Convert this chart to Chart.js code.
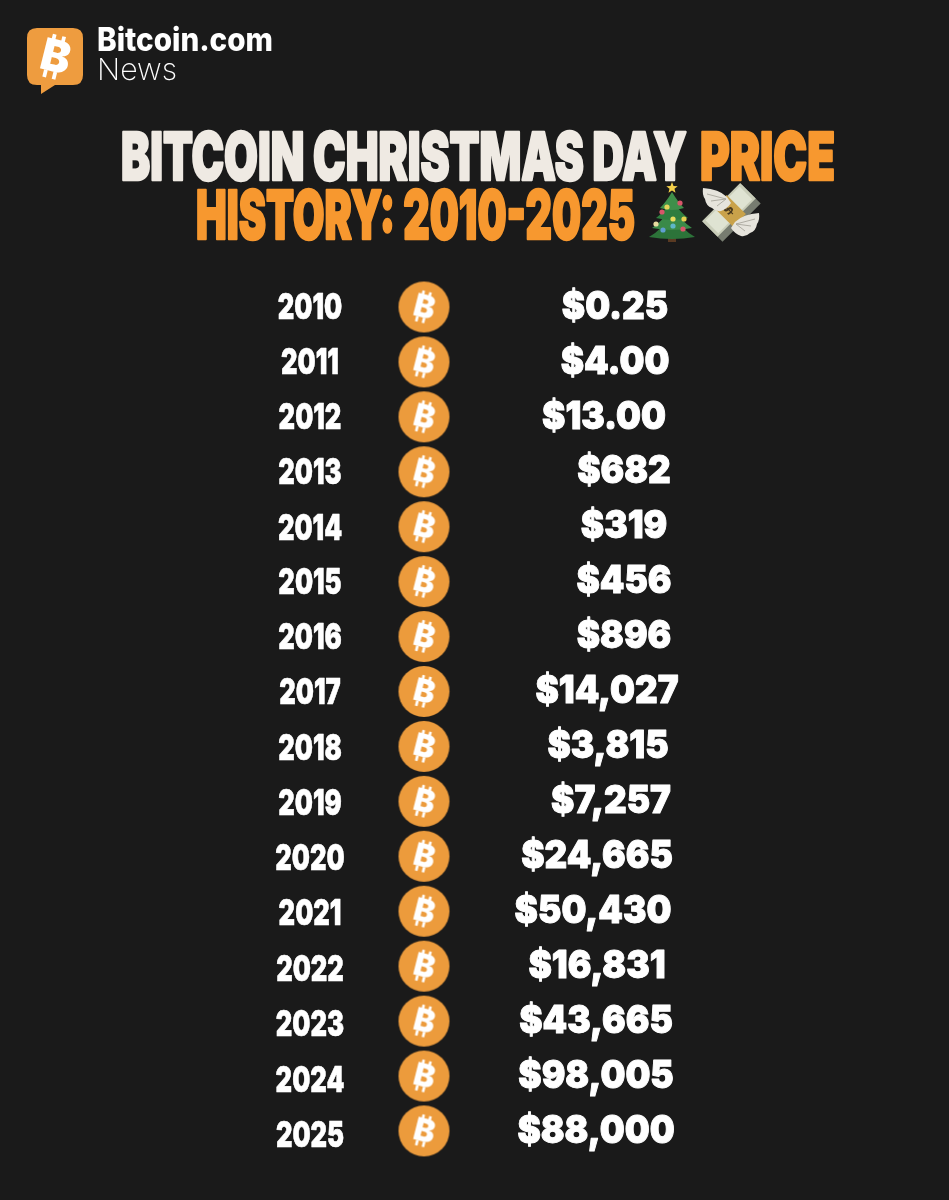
<!DOCTYPE html>
<html>
<head>
<meta charset="utf-8">
<style>html,body{margin:0;padding:0;background:#1a1a1a}canvas{display:block}</style>
<script src="https://cdn.jsdelivr.net/npm/chart.js@4"></script>
</head>
<body>
<canvas id="c" width="949" height="1200" style="width:949px;height:1200px"></canvas>
<script>
const years = ['2010','2011','2012','2013','2014','2015','2016','2017','2018','2019','2020','2021','2022','2023','2024','2025'];
const prices = [0.25,4,13,682,319,456,896,14027,3815,7257,24665,50430,16831,43665,98005,88000];
const columns = ['coin','price'];
const titleLine1 = ['BITCOIN CHRISTMAS DAY','PRICE'];
const titleLine2 = 'HISTORY: 2010-2025';
const brandTop = 'Bitcoin.com';
const brandBottom = 'News';
// hand-placement drift of the price text in the reference (px, text only)
const priceNudge = [0,0,-11,9,9,9,9,-8,-7,-4,-18,-22,-18,-19,-19,-19];
// hand-placement drift of the year text in the reference (px, text only)
const yearNudge = [1,1,1,1,2,2,2,2,3,3,3,3,4,4,5,5];

const BG='#1a1a1a', CREAM='#efeae3', ORANGE='#f7982f', COIN='#ec9b3c';

function bitcoinGlyph(ctx,cx,cy,size){
  ctx.save();
  ctx.translate(cx,cy);ctx.rotate(14*Math.PI/180);
  ctx.fillStyle='#fff';
  ctx.font='900 '+size+'px Inter';
  ctx.textAlign='center';ctx.textBaseline='middle';
  ctx.fillText('B',size*0.02,size*0.03);
  const w=size*0.085,h=size*0.17;
  [-0.13,0.09].forEach(dx=>{
    ctx.fillRect(dx*size-w/2,-size*0.5,w,h);
    ctx.fillRect(dx*size-w/2,size*0.33,w,h);
  });
  ctx.restore();
}
function makeCoin(d){
  const cv=document.createElement('canvas');cv.width=d+2;cv.height=d+2;
  const x=cv.getContext('2d');
  x.fillStyle=COIN;x.beginPath();x.arc(d/2+1,d/2+1,d/2,0,Math.PI*2);x.fill();
  bitcoinGlyph(x,d/2+1,d/2+1,d*0.62);
  return cv;
}
function fitText(ctx,text,x,y,width,stroke){
  const m=ctx.measureText(text).width;
  ctx.save();ctx.translate(x,y);ctx.scale(width/m,1);
  ctx.textAlign='left';
  if(stroke){ctx.lineWidth=stroke;ctx.lineJoin='round';ctx.strokeStyle=ctx.fillStyle;ctx.strokeText(text,0,0);}
  ctx.fillText(text,0,0);ctx.restore();
}
function drawLogo(ctx){
  ctx.save();
  ctx.fillStyle='#ee9c3f';
  ctx.beginPath();ctx.moveTo(37,28);ctx.lineTo(73,28);ctx.quadraticCurveTo(83,28,83,38);
  ctx.lineTo(83,75);ctx.quadraticCurveTo(83,85,73,85);ctx.lineTo(55,85);ctx.lineTo(41,94);ctx.lineTo(41,85);
  ctx.lineTo(37,85);ctx.quadraticCurveTo(27,85,27,75);ctx.lineTo(27,38);ctx.quadraticCurveTo(27,28,37,28);ctx.fill();
  bitcoinGlyph(ctx,55,57,44);
  ctx.fillStyle='#fff';ctx.textAlign='left';ctx.textBaseline='alphabetic';
  ctx.font='800 32px Inter';fitText(ctx,brandTop,97,51,176);
  ctx.font='200 30px Inter';fitText(ctx,brandBottom,97,80,80);
  ctx.restore();
}
function drawTitle(ctx){
  ctx.save();
  ctx.textBaseline='alphabetic';
  ctx.font='900 66px Inter';
  ctx.fillStyle=CREAM;fitText(ctx,titleLine1[0],121,180,566,2.5);
  ctx.fillStyle=ORANGE;fitText(ctx,titleLine1[1],700,180,135,2.5);
  ctx.font='900 68px Inter';
  fitText(ctx,titleLine2,196,239,439,2.5);
  ctx.restore();
}
function drawTree(ctx){
  ctx.save();
  ctx.fillStyle='#5a3a22';ctx.fillRect(668,232,8,10);
  const tiers=[[672,192,12,208,'#3f8f4a'],[672,200,16,218,'#2f7d3f'],[672,206,20,228,'#3a8a48'],[672,214,23,237,'#2c7339']];
  tiers.slice().reverse().forEach(t=>{
    ctx.fillStyle=t[4];ctx.beginPath();ctx.moveTo(t[0],t[1]);
    ctx.quadraticCurveTo(t[0]+t[2]*0.5,t[3]-6,t[0]+t[2],t[3]);
    ctx.quadraticCurveTo(t[0],t[3]+4,t[0]-t[2],t[3]);
    ctx.quadraticCurveTo(t[0]-t[2]*0.5,t[3]-6,t[0],t[1]);ctx.fill();
  });
  [[680,203,'#d8566a'],[667,207,'#e7d45a'],[662,212,'#d8566a'],[673,219,'#e8dc5e'],[684,219,'#e8d050'],[656,224,'#e8dca0'],[673,226,'#5fb7c9'],[663,230,'#5f9fd0'],[683,229,'#d8566a']].forEach(o=>{
    ctx.fillStyle=o[2];ctx.beginPath();ctx.arc(o[0],o[1],2.6,0,Math.PI*2);ctx.fill();
  });
  ctx.fillStyle='#f3cf4a';ctx.beginPath();
  for(let i=0;i<10;i++){const r=i%2?2.6:6,an=-Math.PI/2+i*Math.PI/5;ctx.lineTo(672+r*Math.cos(an),188+r*Math.sin(an));}
  ctx.fill();
  ctx.restore();
}
function wing(ctx,fx){
  ctx.save();ctx.scale(fx,1);
  ctx.fillStyle='#e6e4dc';
  ctx.beginPath();ctx.moveTo(0,0);ctx.quadraticCurveTo(-8,-8,-24,-9);ctx.quadraticCurveTo(-25,-2,-22,2);
  ctx.quadraticCurveTo(-21,9,-15,11);ctx.quadraticCurveTo(-11,15,-6,14);ctx.quadraticCurveTo(0,12,4,6);ctx.closePath();ctx.fill();
  ctx.strokeStyle='#a8a69c';ctx.lineWidth=0.9;
  [[-20,-3],[-16,4],[-10,9]].forEach(p=>{ctx.beginPath();ctx.moveTo(-1,2);ctx.lineTo(p[0],p[1]);ctx.stroke();});
  ctx.restore();
}
function drawMoney(ctx){
  ctx.save();
  ctx.save();ctx.translate(731,212);
  ctx.rotate(-45*Math.PI/180);
  ctx.fillStyle='#777c70';ctx.fillRect(-27,-12,54,27);
  ctx.fillStyle='#c9cdb9';ctx.fillRect(-27,-14,54,22);
  ctx.fillStyle='#dfe3d2';ctx.fillRect(-24,-12,48,18);
  ctx.fillStyle='#c9a24a';ctx.fillRect(-9,-15,18,27);
  ctx.fillStyle='#4a3a1e';ctx.font='700 14px "DejaVu Sans"';ctx.textAlign='center';ctx.textBaseline='middle';
  ctx.fillText('$',0,-3);
  ctx.restore();
  ctx.save();ctx.translate(727,197);wing(ctx,1);ctx.restore();
  ctx.save();ctx.translate(735,222);wing(ctx,-1);ctx.restore();
  ctx.restore();
}
const backdrop={id:'backdrop',beforeDraw(chart){
  const c=chart.ctx;c.save();c.fillStyle=BG;c.fillRect(0,0,chart.width,chart.height);c.restore();
  drawLogo(c);drawTitle(c);drawTree(c);drawMoney(c);
}};
function formatPrice(v){
  return v<100?'$'+v.toFixed(2):'$'+v.toLocaleString('en-US');
}
const rowLabels={id:'rowLabels',afterDatasetsDraw(chart){
  const c=chart.ctx,meta=chart.getDatasetMeta(1),yScale=chart.scales.y;
  c.save();c.fillStyle='#fff';c.strokeStyle='#fff';c.lineJoin='round';
  c.textBaseline='middle';c.textAlign='center';
  // prices
  c.font='900 39px Inter';c.lineWidth=1;
  meta.data.forEach((pt,i)=>{
    c.save();c.translate(pt.x+priceNudge[i],pt.y);c.scale(0.9,1);
    const t=formatPrice(prices[i]);c.strokeText(t,0,0);c.fillText(t,0,0);c.restore();
  });
  // years
  c.font='900 36px Inter';c.lineWidth=0.6;
  yScale.ticks.forEach((tk,i)=>{
    c.save();c.translate(310,yScale.getPixelForTick(i)+yearNudge[i]);c.scale(0.71,1);
    const t=yScale.getLabelForValue(tk.value);c.strokeText(t,0,0);c.fillText(t,0,0);c.restore();
  });
  c.restore();
}};
const coin=makeCoin(51);
new Chart(document.getElementById('c'),{
  type:'scatter',
  data:{labels:years,datasets:[
    {label:'Coin',data:years.map(y=>({x:columns[0],y})),pointStyle:coin,pointRadius:26,pointHoverRadius:26},
    {label:'Price',data:years.map(y=>({x:columns[1],y})),pointRadius:0}
  ]},
  options:{
    responsive:false,animation:false,devicePixelRatio:1,
    layout:{padding:{left:228.5,right:238.5,top:279.5,bottom:41.6}},
    plugins:{legend:{display:false},title:{display:false},tooltip:{enabled:false}},
    scales:{
      x:{type:'category',labels:columns,offset:true,display:false},
      y:{type:'category',labels:years,offset:true,
        grid:{display:false,drawTicks:false},border:{display:false},
        afterFit(s){s.width=100},
        ticks:{autoSkip:false,display:false}
      }
    }
  },
  plugins:[backdrop,rowLabels]
});
</script>
</body>
</html>
